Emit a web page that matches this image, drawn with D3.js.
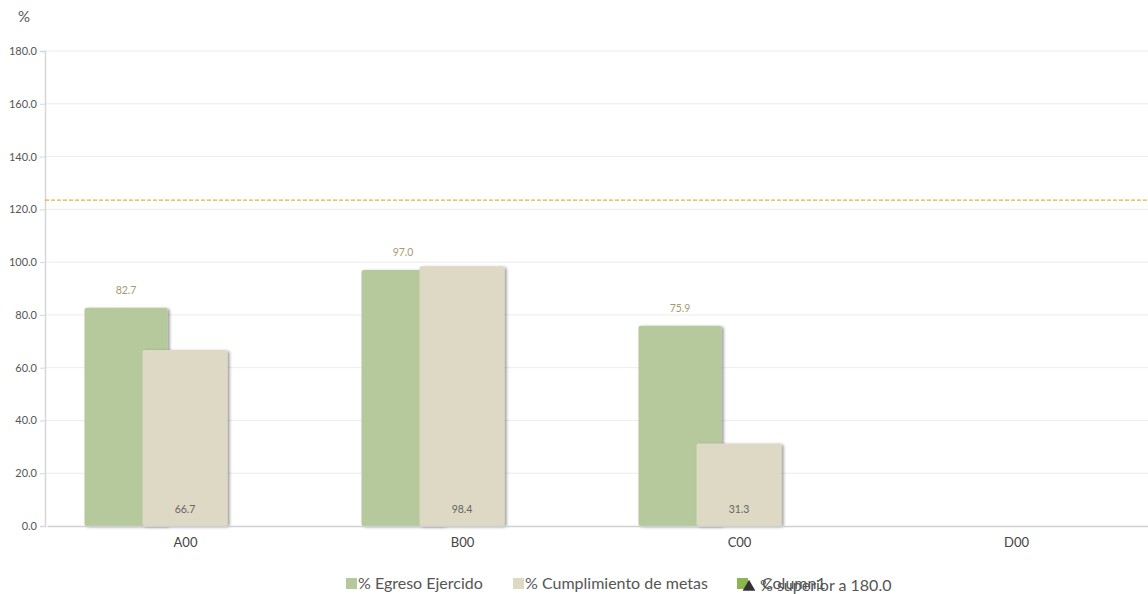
<!DOCTYPE html>
<html>
<head>
<meta charset="utf-8">
<script src="https://cdn.jsdelivr.net/npm/d3@7"></script>
<style>
  body { margin: 0; background: #fff; font-family: Lato, "Open Sans", sans-serif; }
  svg { display: block; }
</style>
</head>
<body>
<script>
// chart data
var categories = ["A00", "B00", "C00", "D00"];
var egreso = [82.7, 97.0, 75.9, null];
var cumplimiento = [66.7, 98.4, 31.3, null];
var yTicks = [0, 20, 40, 60, 80, 100, 120, 140, 160, 180];
var limitValue = 123.5;
var legendItems = ["% Egreso Ejercido", "% Cumplimiento de metas", "Column1", "% superior a 180.0"];

var width = 1148, height = 594;
var margin = { left: 45, top: 51, bottom: 68 };

var svg = d3.select("body").append("svg")
  .attr("width", width)
  .attr("height", height);

var defs = svg.append("defs");
var shadow = defs.append("filter").attr("id", "shadow")
  .attr("x", "-10%").attr("y", "-10%").attr("width", "130%").attr("height", "130%");
shadow.append("feDropShadow")
  .attr("dx", 2).attr("dy", 1).attr("stdDeviation", 1.5)
  .attr("flood-color", "#000").attr("flood-opacity", 0.4);

var x = d3.scaleBand()
  .domain(categories)
  .range([47, 1155]);

var y = d3.scaleLinear()
  .domain([0, 180])
  .range([height - margin.bottom, margin.top]);

// grid lines
svg.append("g")
  .selectAll("line")
  .data(yTicks.slice(1))
  .enter()
    .append("line")
    .attr("x1", margin.left).attr("x2", width)
    .attr("y1", function(d) { return y(d); })
    .attr("y2", function(d) { return y(d); })
    .attr("stroke", "#ececec");

// y axis
var yAxis = svg.append("g")
  .attr("transform", "translate(" + margin.left + ",0)")
  .call(d3.axisLeft(y).tickValues(yTicks).tickSize(5).tickPadding(3)
    .tickFormat(function(d) { return d.toFixed(1); }));
yAxis.select(".domain").attr("stroke", "#d6d6d6").attr("stroke-width", 1.5);
yAxis.selectAll(".tick line").attr("stroke", "#d6d6d6");
yAxis.selectAll("text")
  .attr("fill", "#555")
  .style("font-family", "Lato, sans-serif")
  .style("font-size", "11px");

svg.append("text")
  .attr("x", 18).attr("y", 22)
  .attr("fill", "#555")
  .style("font-size", "15px")
  .text("%");

// bars
var bw = 0.3 * x.bandwidth();
function cx(d) { return x(d) + x.bandwidth() / 2; }

var g1 = svg.append("g");
g1.selectAll("rect")
  .data(categories.filter(function(d, i) { return egreso[i] != null; }))
  .enter()
    .append("rect")
    .attr("x", function(d) { return cx(d) - 101; })
    .attr("y", function(d) { return y(egreso[categories.indexOf(d)]); })
    .attr("width", bw)
    .attr("height", function(d) { return y(0) - y(egreso[categories.indexOf(d)]); })
    .attr("rx", 2)
    .attr("fill", "#b6c99c")
    .attr("filter", "url(#shadow)");

var g2 = svg.append("g");
g2.selectAll("rect")
  .data(categories.filter(function(d, i) { return cumplimiento[i] != null; }))
  .enter()
    .append("rect")
    .attr("x", function(d) { return cx(d) - 43; })
    .attr("y", function(d) { return y(cumplimiento[categories.indexOf(d)]); })
    .attr("width", 85)
    .attr("height", function(d) { return y(0) - y(cumplimiento[categories.indexOf(d)]); })
    .attr("rx", 2)
    .attr("fill", "#ddd9c4")
    .attr("filter", "url(#shadow)");

// value labels
svg.append("g").selectAll("text")
  .data(categories.filter(function(d, i) { return egreso[i] != null; }))
  .enter()
    .append("text")
    .attr("x", function(d) { return cx(d) - 101 + bw / 2; })
    .attr("y", function(d) { return y(egreso[categories.indexOf(d)]) - 14; })
    .attr("text-anchor", "middle")
    .attr("fill", "#a49c6c")
    .style("font-size", "10.5px")
    .text(function(d) { return egreso[categories.indexOf(d)].toFixed(1); });

svg.append("g").selectAll("text")
  .data(categories.filter(function(d, i) { return cumplimiento[i] != null; }))
  .enter()
    .append("text")
    .attr("x", function(d) { return cx(d) - 0.5; })
    .attr("y", y(0) - 13)
    .attr("text-anchor", "middle")
    .attr("fill", "#666")
    .style("font-size", "10.5px")
    .text(function(d) { return cumplimiento[categories.indexOf(d)].toFixed(1); });

// x axis
var xAxis = svg.append("g")
  .attr("transform", "translate(0," + y(0) + ")")
  .call(d3.axisBottom(x).tickSize(0).tickPadding(12));
xAxis.select(".domain").attr("stroke", "#d0d0d0").attr("stroke-width", 1.5);
xAxis.selectAll("text")
  .attr("fill", "#444")
  .style("font-family", "Lato, sans-serif")
  .style("font-size", "13px");

// limit line
svg.append("line")
  .attr("x1", margin.left).attr("x2", width)
  .attr("y1", y(limitValue)).attr("y2", y(limitValue))
  .attr("stroke", "#d9a300")
  .attr("stroke-width", 1)
  .attr("stroke-dasharray", "4,2");

// legend
var leg = svg.append("g").style("font-size", "16px");
var legX = [346, 513, 737];
var legColors = ["#b6c99c", "#ddd9c4", "#8db650"];
for (var i = 0; i < 3; i++) {
  leg.append("rect")
    .attr("x", legX[i]).attr("y", 578)
    .attr("width", 11).attr("height", 11)
    .attr("fill", legColors[i]);
  leg.append("text")
    .attr("x", legX[i] + (i == 2 ? 25 : 12)).attr("y", 589)
    .attr("fill", "#555")
    .text(legendItems[i]);
}
leg.append("path")
  .attr("d", d3.symbol(d3.symbolTriangle, 70)())
  .attr("transform", "translate(749,587)")
  .attr("fill", "#333");
leg.append("text")
  .attr("x", 760).attr("y", 591)
  .attr("fill", "#555")
  .text(legendItems[3]);
</script>
</body>
</html>
